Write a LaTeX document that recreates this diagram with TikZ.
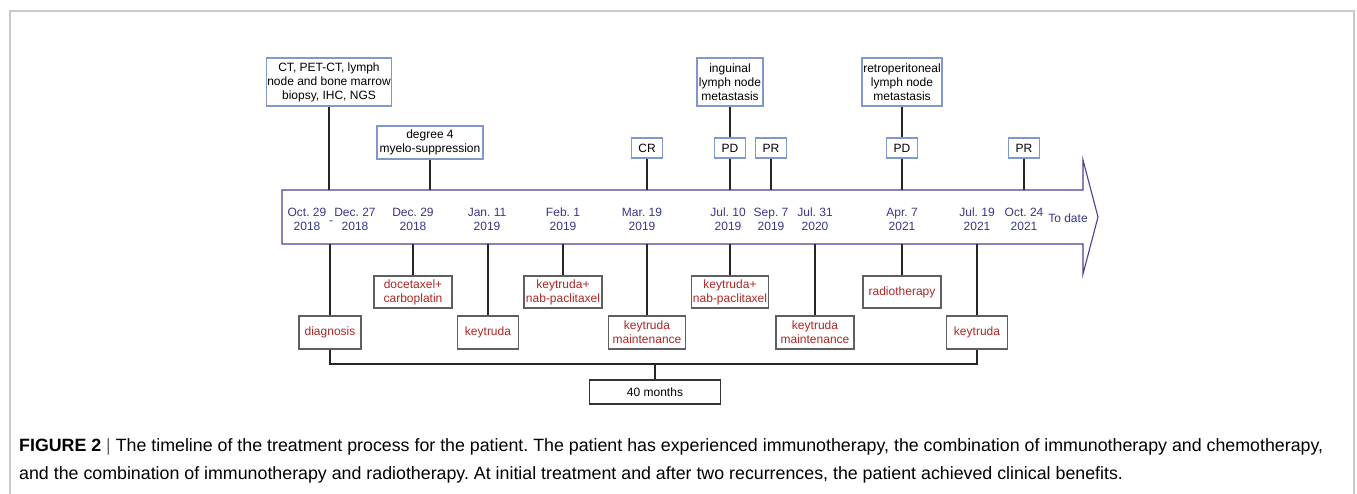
\documentclass[tikz,border=0pt]{standalone}
\usepackage{fontspec}
\setmainfont{Liberation Sans}
\usepackage{tikz}
\usetikzlibrary{positioning,calc}
\definecolor{tlpurple}{RGB}{78,62,152}
\definecolor{datetext}{RGB}{55,55,140}
\definecolor{boxblue}{RGB}{128,152,204}
\definecolor{boxgray}{RGB}{95,95,95}
\definecolor{txred}{RGB}{176,38,38}
\definecolor{framegray}{RGB}{200,200,200}
\frenchspacing

\begin{document}
\begin{tikzpicture}[x=1pt, y=-1pt,
  font=\fontsize{12}{14}\selectfont,
  topbox/.style={draw=boxblue, line width=1.1pt, fill=white, align=center, inner sep=0pt},
  treatbox/.style={draw=boxgray, line width=1.1pt, fill=white, align=center, inner sep=0pt, text=txred},
  datelbl/.style={align=center, text=datetext, inner sep=0pt},
  stem/.style={line width=1.6pt, color=black!85},
  tlarrow/.style={draw=tlpurple, line width=1.1pt, fill=white}]
\useasboundingbox (0,0) rectangle (1357,494);
% frame
\draw[framegray, line width=1.2pt] (10,494) -- (10,11) -- (1354,11) -- (1354,494);
% timeline arrow
\draw[tlarrow] (282,190) -- (1083,190) -- (1083,160) -- (1098,217) -- (1083,274)
  -- (1083,244) -- (282,244) -- cycle;
\coordinate (atop) at (0,190);
\coordinate (abot) at (0,244);
\coordinate (bar) at (0,364);
% dates
\node[datelbl] (d1) at (307,219) {Oct. 29\\2018};
\node[datelbl] (d2) at (355,219) {Dec. 27\\2018};
\node[datelbl] at (331,223) {-};
\node[datelbl] (d3) at (413,219) {Dec. 29\\2018};
\node[datelbl] (d4) at (487,219) {Jan. 11\\2019};
\node[datelbl] (d5) at (563,219) {Feb. 1\\2019};
\node[datelbl] (d6) at (642,219) {Mar. 19\\2019};
\node[datelbl] (d7) at (728,219) {Jul. 10\\2019};
\node[datelbl] (d8) at (771,219) {Sep. 7\\2019};
\node[datelbl] (d9) at (815,219) {Jul. 31\\2020};
\node[datelbl] (d10) at (902,219) {Apr. 7\\2021};
\node[datelbl] (d11) at (977,219) {Jul. 19\\2021};
\node[datelbl] (d12) at (1024,219) {Oct. 24\\2021};
\node[datelbl] (now) at (1068,218) {To date};
% findings above the line
\node[topbox, minimum width=125, minimum height=48] (ct) at (329,82) {CT, PET-CT, lymph\\node and bone marrow\\biopsy, IHC, NGS};
\node[topbox, minimum width=106, minimum height=33] (deg) at (430,142.5) {degree 4\\myelo-suppression};
\node[topbox, minimum width=31, minimum height=20] (cr) at (647,148) {CR};
\node[topbox, minimum width=31, minimum height=20] (pd1) at (730,148) {PD};
\node[topbox, minimum width=31, minimum height=20] (pr1) at (771,148) {PR};
\node[topbox, minimum width=66, minimum height=48] (ing) at (730,82) {inguinal\\lymph node\\metastasis};
\node[topbox, minimum width=80, minimum height=48] (retro) at (902,82) {retroperitoneal\\lymph node\\metastasis};
\node[topbox, minimum width=31, minimum height=20] (pd2) at (902,148) {PD};
\node[topbox, minimum width=31, minimum height=20] (pr2) at (1024,148) {PR};
\draw[stem] (ct) -- (ct |- atop);
\draw[stem] (deg) -- (deg |- atop);
\draw[stem] (cr) -- (cr |- atop);
\draw[stem] (ing) -- (pd1); \draw[stem] (pd1) -- (pd1 |- atop);
\draw[stem] (pr1) -- (pr1 |- atop);
\draw[stem] (retro) -- (pd2); \draw[stem] (pd2) -- (pd2 |- atop);
\draw[stem] (pr2) -- (pr2 |- atop);
% treatments below the line
\node[treatbox, minimum width=62, minimum height=33] (diag) at (330,332.5) {diagnosis};
\node[treatbox, minimum width=78, minimum height=32] (doce) at (413,292) {docetaxel+\\carboplatin};
\node[treatbox, minimum width=61, minimum height=33] (key1) at (488,332.5) {keytruda};
\node[treatbox, minimum width=78, minimum height=32] (kn1) at (563,292) {keytruda+\\nab-paclitaxel};
\node[treatbox, minimum width=77, minimum height=33] (km1) at (647,332.5) {keytruda\\maintenance};
\node[treatbox, minimum width=77, minimum height=32] (kn2) at (730,292) {keytruda+\\nab-paclitaxel};
\node[treatbox, minimum width=78, minimum height=33] (km2) at (815,332.5) {keytruda\\maintenance};
\node[treatbox, minimum width=78, minimum height=32] (radio) at (902,292) {radiotherapy};
\node[treatbox, minimum width=61, minimum height=33] (key2) at (977,332.5) {keytruda};
\foreach \n in {diag,doce,key1,kn1,km1,kn2,km2,radio,key2}
  \draw[stem] (\n) -- (\n |- abot);
% total span
\node[draw=black!80, line width=1.1pt, minimum width=131, minimum height=24, inner sep=0pt] (span) at (655,392) {40 months};
\draw[stem] (diag.south) -- (diag.south |- bar) -- (key2.south |- bar) -- (key2.south);
\draw[stem] (span) -- (span |- bar);
% caption
\node[anchor=west, align=left, inner sep=0pt, font=\fontsize{17.8}{28}\selectfont] (cap) at (19,461)
  {\textbf{FIGURE 2} {\color{black!60}|} The timeline of the treatment process for the patient. The patient has experienced immunotherapy, the combination of immunotherapy and chemotherapy,\\
   and the combination of immunotherapy and radiotherapy. At initial treatment and after two recurrences, the patient achieved clinical benefits.};
\end{tikzpicture}
\end{document}
